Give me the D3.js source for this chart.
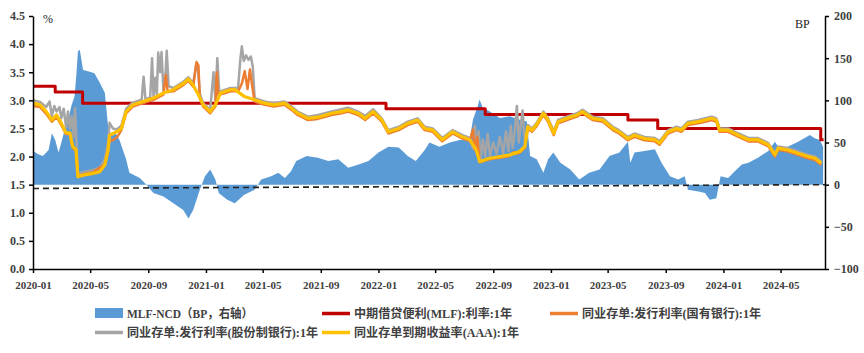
<!DOCTYPE html>
<html>
<head>
<meta charset="utf-8">
<script src="https://cdn.jsdelivr.net/npm/d3@7"></script>
<style>
  body { margin: 0; background: #fff; }
  svg { display: block; }
</style>
</head>
<body>
<svg></svg>
<script>
// clear the svg
d3.selectAll("svg > *").remove();

/*
 * Data
 */
// MLF-NCD spread, BP (right axis)
const mlfNcdSpread = [
  ["2020-01-01", 40], ["2020-01-12", 36], ["2020-01-22", 34], ["2020-02-03", 41], ["2020-02-10", 61],
  ["2020-02-17", 53], ["2020-02-24", 38], ["2020-03-01", 50], ["2020-03-08", 65], ["2020-03-14", 73],
  ["2020-03-22", 93], ["2020-03-29", 105], ["2020-04-02", 132], ["2020-04-05", 158], ["2020-04-09", 160],
  ["2020-04-16", 136], ["2020-04-30", 134], ["2020-05-10", 132], ["2020-05-21", 121], ["2020-06-01", 109],
  ["2020-06-08", 69], ["2020-06-11", 61], ["2020-06-22", 63], ["2020-07-02", 53], ["2020-07-16", 30],
  ["2020-07-23", 14], ["2020-08-14", 8], ["2020-08-28", 0], ["2020-09-12", -10], ["2020-10-03", -14],
  ["2020-10-24", -22], ["2020-11-14", -30], ["2020-11-25", -40], ["2020-12-05", -30], ["2020-12-19", -6],
  ["2020-12-30", 10], ["2021-01-10", 18], ["2021-01-21", 6], ["2021-01-28", -10], ["2021-02-15", -18],
  ["2021-03-03", -22], ["2021-03-23", -12], ["2021-04-14", -6], ["2021-04-28", 6], ["2021-05-19", 10],
  ["2021-06-03", 14], ["2021-06-17", 8], ["2021-06-30", 16], ["2021-07-11", 28], ["2021-08-02", 34],
  ["2021-08-26", 32], ["2021-09-17", 28], ["2021-10-08", 30], ["2021-10-29", 20], ["2021-11-20", 24],
  ["2021-12-11", 28], ["2022-01-01", 38], ["2022-01-22", 45], ["2022-02-13", 44], ["2022-03-04", 34],
  ["2022-03-21", 28], ["2022-04-09", 41], ["2022-04-19", 50], ["2022-05-10", 45], ["2022-06-01", 50],
  ["2022-06-22", 53], ["2022-07-13", 53], ["2022-07-20", 77], ["2022-07-30", 93], ["2022-08-03", 101],
  ["2022-08-10", 91], ["2022-08-24", 87], ["2022-09-15", 79], ["2022-10-06", 81], ["2022-10-27", 77],
  ["2022-11-11", 75], ["2022-11-18", 34], ["2022-12-02", 30], ["2022-12-16", 14], ["2022-12-26", 30],
  ["2023-01-06", 38], ["2023-01-21", 26], ["2023-02-11", 18], ["2023-03-02", 6], ["2023-03-23", 14],
  ["2023-04-14", 18], ["2023-05-05", 34], ["2023-05-26", 38], ["2023-06-13", 51], ["2023-06-18", 26],
  ["2023-06-27", 38], ["2023-07-18", 40], ["2023-08-09", 42], ["2023-08-23", 26], ["2023-09-10", 10],
  ["2023-09-27", 6], ["2023-10-11", 10], ["2023-10-18", -6], ["2023-11-09", -8], ["2023-11-23", -10],
  ["2023-12-03", -18], ["2023-12-17", -16], ["2023-12-26", 10], ["2024-01-11", 8], ["2024-01-25", 16],
  ["2024-02-09", 24], ["2024-02-23", 26], ["2024-03-14", 32], ["2024-04-05", 40], ["2024-04-19", 51],
  ["2024-04-26", 45], ["2024-05-16", 45], ["2024-06-07", 51], ["2024-07-02", 59], ["2024-07-12", 55],
  ["2024-07-23", 53], ["2024-07-30", 45]
];

// MLF 1Y rate, % (step line)
const mlfRate = [
  ["2020-01-01", 3.25], ["2020-02-17", 3.15], ["2020-04-15", 2.95], ["2022-01-17", 2.85],
  ["2022-08-15", 2.75], ["2023-06-13", 2.65], ["2023-08-15", 2.50], ["2024-07-25", 2.30],
  ["2024-07-31", 2.30]
];

// NCD issuance rate, state-owned banks, 1Y, %
const ncdStateBank = [
  ["2020-01-01", 2.90], ["2020-01-16", 2.88], ["2020-01-29", 2.76], ["2020-02-10", 2.62], ["2020-02-20", 2.70],
  ["2020-03-01", 2.56], ["2020-03-11", 2.40], ["2020-03-19", 2.40], ["2020-03-25", 2.16], ["2020-04-01", 2.10],
  ["2020-04-05", 1.65], ["2020-04-16", 1.68], ["2020-05-07", 1.72], ["2020-05-21", 1.80], ["2020-06-01", 1.86],
  ["2020-06-08", 2.15], ["2020-06-11", 2.28], ["2020-06-20", 2.30], ["2020-06-28", 2.36], ["2020-07-06", 2.47],
  ["2020-07-16", 2.77], ["2020-07-30", 2.89], ["2020-08-21", 2.95], ["2020-09-12", 3.01], ["2020-10-03", 3.10],
  ["2020-10-08", 3.45], ["2020-10-12", 3.15], ["2020-10-24", 3.16], ["2020-11-14", 3.27], ["2020-11-25", 3.35],
  ["2020-12-05", 3.24], ["2020-12-12", 3.68], ["2020-12-16", 3.62], ["2020-12-19", 3.05], ["2020-12-26", 2.89],
  ["2021-01-10", 2.77], ["2021-01-21", 2.89], ["2021-01-24", 3.50], ["2021-01-27", 3.10], ["2021-02-11", 3.13],
  ["2021-02-22", 3.16], ["2021-03-10", 3.16], ["2021-03-18", 3.30], ["2021-03-24", 3.52], ["2021-03-30", 3.20],
  ["2021-04-04", 3.55], ["2021-04-09", 3.25], ["2021-04-14", 2.98], ["2021-05-05", 2.92], ["2021-05-25", 2.89],
  ["2021-06-16", 2.92], ["2021-07-01", 2.83], ["2021-07-14", 2.74], ["2021-08-05", 2.65], ["2021-08-26", 2.67],
  ["2021-09-24", 2.74], ["2021-10-15", 2.77], ["2021-10-29", 2.80], ["2021-11-19", 2.74], ["2021-12-04", 2.65],
  ["2021-12-21", 2.77], ["2022-01-08", 2.62], ["2022-01-22", 2.41], ["2022-02-13", 2.47], ["2022-03-04", 2.56],
  ["2022-03-25", 2.62], ["2022-04-09", 2.47], ["2022-04-26", 2.44], ["2022-05-16", 2.27], ["2022-06-07", 2.41],
  ["2022-06-28", 2.32], ["2022-07-13", 2.28], ["2022-07-20", 2.48], ["2022-07-24", 2.12], ["2022-07-29", 2.35],
  ["2022-08-03", 1.90], ["2022-08-24", 1.95], ["2022-09-15", 1.98], ["2022-10-06", 2.01], ["2022-10-14", 2.08],
  ["2022-10-20", 2.05], ["2022-10-27", 2.07], ["2022-11-07", 2.16], ["2022-11-13", 2.50], ["2022-11-22", 2.44],
  ["2022-12-01", 2.53], ["2022-12-16", 2.74], ["2022-12-26", 2.62], ["2023-01-07", 2.38], ["2023-01-16", 2.59],
  ["2023-02-04", 2.65], ["2023-02-25", 2.71], ["2023-03-09", 2.77], ["2023-03-30", 2.65], ["2023-04-21", 2.62],
  ["2023-05-12", 2.47], ["2023-05-25", 2.41], ["2023-06-13", 2.29], ["2023-06-27", 2.35], ["2023-07-18", 2.29],
  ["2023-08-09", 2.27], ["2023-08-19", 2.21], ["2023-09-06", 2.41], ["2023-09-24", 2.47], ["2023-10-04", 2.44],
  ["2023-10-18", 2.56], ["2023-11-09", 2.59], ["2023-11-23", 2.62], ["2023-12-07", 2.65], ["2023-12-17", 2.62],
  ["2023-12-24", 2.44], ["2024-01-11", 2.44], ["2024-02-02", 2.35], ["2024-02-23", 2.27], ["2024-03-14", 2.27],
  ["2024-04-05", 2.18], ["2024-04-19", 2.00], ["2024-04-26", 2.12], ["2024-05-16", 2.09], ["2024-06-07", 2.03],
  ["2024-06-28", 1.97], ["2024-07-13", 1.94], ["2024-07-26", 1.85]
];

// NCD issuance rate, joint-stock banks, 1Y, %
const ncdJointStock = [
  ["2020-01-01", 3.00], ["2020-01-16", 2.97], ["2020-01-29", 2.88], ["2020-02-05", 2.98], ["2020-02-10", 2.72],
  ["2020-02-15", 2.90], ["2020-02-20", 2.80], ["2020-02-26", 2.88], ["2020-03-01", 2.68], ["2020-03-06", 2.85],
  ["2020-03-11", 2.52], ["2020-03-15", 2.80], ["2020-03-19", 2.50], ["2020-03-23", 2.72], ["2020-03-27", 2.35],
  ["2020-03-30", 2.86], ["2020-04-02", 2.25], ["2020-04-05", 1.70], ["2020-04-16", 1.72], ["2020-05-07", 1.76],
  ["2020-05-21", 1.80], ["2020-06-01", 1.95], ["2020-06-08", 2.25], ["2020-06-11", 2.60], ["2020-06-18", 2.50],
  ["2020-06-26", 2.48], ["2020-07-06", 2.55], ["2020-07-16", 2.85], ["2020-07-30", 2.96], ["2020-08-18", 3.01],
  ["2020-08-22", 3.42], ["2020-08-26", 3.02], ["2020-09-05", 3.05], ["2020-09-09", 3.75], ["2020-09-12", 3.08],
  ["2020-09-16", 3.40], ["2020-09-19", 3.10], ["2020-09-22", 3.85], ["2020-09-26", 3.50], ["2020-09-29", 3.86],
  ["2020-10-03", 3.18], ["2020-10-07", 3.40], ["2020-10-10", 3.88], ["2020-10-14", 3.25], ["2020-10-24", 3.22],
  ["2020-11-14", 3.33], ["2020-11-25", 3.41], ["2020-12-05", 3.30], ["2020-12-11", 3.62], ["2020-12-15", 3.58],
  ["2020-12-19", 3.12], ["2020-12-26", 2.95], ["2021-01-10", 2.83], ["2021-01-17", 3.50], ["2021-01-21", 3.00],
  ["2021-01-25", 3.75], ["2021-01-29", 3.15], ["2021-02-11", 3.19], ["2021-02-22", 3.22], ["2021-03-10", 3.22],
  ["2021-03-15", 3.75], ["2021-03-18", 3.96], ["2021-03-22", 3.70], ["2021-03-27", 3.80], ["2021-04-01", 3.72],
  ["2021-04-06", 3.78], ["2021-04-10", 3.60], ["2021-04-14", 3.04], ["2021-05-05", 2.98], ["2021-05-25", 2.95],
  ["2021-06-16", 2.98], ["2021-07-01", 2.89], ["2021-07-14", 2.80], ["2021-08-05", 2.71], ["2021-08-26", 2.74],
  ["2021-09-24", 2.80], ["2021-10-15", 2.84], ["2021-10-29", 2.87], ["2021-11-19", 2.80], ["2021-12-04", 2.72],
  ["2021-12-21", 2.84], ["2022-01-08", 2.68], ["2022-01-22", 2.47], ["2022-02-13", 2.53], ["2022-03-04", 2.62],
  ["2022-03-25", 2.68], ["2022-04-09", 2.53], ["2022-04-26", 2.50], ["2022-05-16", 2.33], ["2022-06-07", 2.47],
  ["2022-06-28", 2.38], ["2022-07-13", 2.33], ["2022-07-20", 2.15], ["2022-07-24", 2.55], ["2022-07-28", 2.10],
  ["2022-08-01", 2.45], ["2022-08-05", 1.95], ["2022-08-10", 2.30], ["2022-08-15", 2.00], ["2022-08-20", 2.40],
  ["2022-08-25", 2.02], ["2022-09-01", 2.25], ["2022-09-08", 2.05], ["2022-09-15", 2.35], ["2022-09-22", 2.06],
  ["2022-09-28", 2.45], ["2022-10-03", 2.10], ["2022-10-08", 2.55], ["2022-10-12", 2.15], ["2022-10-16", 2.40],
  ["2022-10-21", 2.90], ["2022-10-25", 2.25], ["2022-11-02", 2.82], ["2022-11-07", 2.22], ["2022-11-13", 2.56],
  ["2022-11-22", 2.50], ["2022-12-01", 2.59], ["2022-12-16", 2.80], ["2022-12-26", 2.68], ["2023-01-07", 2.45],
  ["2023-01-16", 2.65], ["2023-02-04", 2.71], ["2023-02-25", 2.77], ["2023-03-09", 2.83], ["2023-03-30", 2.71],
  ["2023-04-21", 2.68], ["2023-05-12", 2.53], ["2023-05-25", 2.47], ["2023-06-13", 2.35], ["2023-06-27", 2.41],
  ["2023-07-18", 2.35], ["2023-08-09", 2.33], ["2023-08-19", 2.27], ["2023-09-06", 2.47], ["2023-09-24", 2.53],
  ["2023-10-04", 2.50], ["2023-10-18", 2.62], ["2023-11-09", 2.65], ["2023-11-23", 2.68], ["2023-12-07", 2.71],
  ["2023-12-17", 2.68], ["2023-12-24", 2.50], ["2024-01-11", 2.50], ["2024-02-02", 2.41], ["2024-02-23", 2.33],
  ["2024-03-14", 2.33], ["2024-04-05", 2.24], ["2024-04-19", 2.06], ["2024-04-26", 2.18], ["2024-05-16", 2.15],
  ["2024-06-07", 2.09], ["2024-06-28", 2.03], ["2024-07-13", 2.00], ["2024-07-26", 1.91]
];

// NCD yield to maturity (AAA), 1Y, %
const ncdAAA = [
  ["2020-01-01", 2.95], ["2020-01-16", 2.92], ["2020-01-29", 2.80], ["2020-02-10", 2.65], ["2020-02-20", 2.74],
  ["2020-03-01", 2.59], ["2020-03-11", 2.42], ["2020-03-19", 2.42], ["2020-03-25", 2.18], ["2020-04-01", 2.12],
  ["2020-04-05", 1.64], ["2020-04-16", 1.67], ["2020-05-07", 1.70], ["2020-05-21", 1.73], ["2020-06-01", 1.85],
  ["2020-06-08", 2.12], ["2020-06-11", 2.38], ["2020-06-26", 2.44], ["2020-07-06", 2.50], ["2020-07-16", 2.80],
  ["2020-07-30", 2.92], ["2020-08-21", 2.98], ["2020-09-12", 3.04], ["2020-10-03", 3.13], ["2020-10-24", 3.19],
  ["2020-11-14", 3.30], ["2020-11-25", 3.38], ["2020-12-05", 3.27], ["2020-12-16", 3.10], ["2020-12-26", 2.92],
  ["2021-01-10", 2.80], ["2021-01-21", 2.92], ["2021-02-01", 3.13], ["2021-02-11", 3.16], ["2021-02-22", 3.19],
  ["2021-03-03", 3.19], ["2021-03-23", 3.07], ["2021-04-14", 3.01], ["2021-05-05", 2.95], ["2021-05-25", 2.92],
  ["2021-06-16", 2.95], ["2021-07-01", 2.86], ["2021-07-14", 2.77], ["2021-08-05", 2.68], ["2021-08-26", 2.70],
  ["2021-09-24", 2.77], ["2021-10-15", 2.80], ["2021-10-29", 2.83], ["2021-11-19", 2.77], ["2021-12-04", 2.68],
  ["2021-12-21", 2.80], ["2022-01-08", 2.65], ["2022-01-22", 2.44], ["2022-02-13", 2.50], ["2022-03-04", 2.59],
  ["2022-03-25", 2.65], ["2022-04-09", 2.50], ["2022-04-26", 2.47], ["2022-05-16", 2.30], ["2022-06-07", 2.44],
  ["2022-06-28", 2.35], ["2022-07-13", 2.30], ["2022-07-27", 2.12], ["2022-08-03", 1.91], ["2022-08-24", 1.97],
  ["2022-09-15", 2.00], ["2022-10-06", 2.03], ["2022-10-27", 2.09], ["2022-11-07", 2.18], ["2022-11-13", 2.53],
  ["2022-11-22", 2.47], ["2022-12-01", 2.56], ["2022-12-16", 2.77], ["2022-12-26", 2.65], ["2023-01-07", 2.41],
  ["2023-01-16", 2.62], ["2023-02-04", 2.68], ["2023-02-25", 2.74], ["2023-03-09", 2.80], ["2023-03-30", 2.68],
  ["2023-04-21", 2.65], ["2023-05-12", 2.50], ["2023-05-25", 2.44], ["2023-06-13", 2.32], ["2023-06-27", 2.38],
  ["2023-07-18", 2.32], ["2023-08-09", 2.30], ["2023-08-19", 2.24], ["2023-09-06", 2.44], ["2023-09-24", 2.50],
  ["2023-10-04", 2.47], ["2023-10-18", 2.59], ["2023-11-09", 2.62], ["2023-11-23", 2.65], ["2023-12-07", 2.68],
  ["2023-12-17", 2.65], ["2023-12-24", 2.47], ["2024-01-11", 2.47], ["2024-02-02", 2.38], ["2024-02-23", 2.30],
  ["2024-03-14", 2.30], ["2024-04-05", 2.21], ["2024-04-19", 2.03], ["2024-04-26", 2.15], ["2024-05-16", 2.12],
  ["2024-06-07", 2.06], ["2024-06-28", 2.00], ["2024-07-13", 1.97], ["2024-07-26", 1.88]
];

// dashed reference line on the right axis (BP)
const zeroRef = [["2020-01-01", -4.5], ["2024-08-03", 0]];

const xDomain = ["2020-01-01", "2024-08-03"];
const leftTicks = [0, 0.5, 1, 1.5, 2, 2.5, 3, 3.5, 4, 4.5];
const rightTicks = [-100, -50, 0, 50, 100, 150, 200];

const legendItems = [
  { label: "MLF-NCD（BP，右轴）", color: "#5B9BD5", type: "rect", width: 126 },
  { label: "中期借贷便利(MLF):利率:1年", color: "#C00000", type: "line", width: 158 },
  { label: "同业存单:发行利率(国有银行):1年", color: "#ED7D31", type: "line", width: 179 },
  { label: "同业存单:发行利率(股份制银行):1年", color: "#A5A5A5", type: "line", width: 191 },
  { label: "同业存单到期收益率(AAA):1年", color: "#FFC000", type: "line", width: 165 }
];

/*
 * Viz constants
 */
const SVG_WIDTH = 864;
const SVG_HEIGHT = 353;
const PLOT_LEFT = 33;
const PLOT_RIGHT = 825;
const PLOT_TOP = 16;
const PLOT_BOTTOM = 269;
const LABEL_FONT = "'Liberation Serif', 'Times New Roman', 'Noto Sans CJK SC', serif";
const TEXT_COLOR = "#404040";

const parse = d3.timeParse("%Y-%m-%d");

const svg = d3.select("svg")
  .attr("width", SVG_WIDTH)
  .attr("height", SVG_HEIGHT);

svg.append("rect")
  .attr("width", SVG_WIDTH)
  .attr("height", SVG_HEIGHT)
  .attr("fill", "#fff");

const x = d3.scaleTime()
  .domain(xDomain.map(parse))
  .range([PLOT_LEFT, PLOT_RIGHT]);
const yLeft = d3.scaleLinear().domain([0, 4.5]).range([PLOT_BOTTOM, PLOT_TOP]);
const yRight = d3.scaleLinear().domain([-100, 200]).range([PLOT_BOTTOM, PLOT_TOP]);

// spread area
svg.append("path")
  .datum(mlfNcdSpread)
  .attr("fill", "#5B9BD5")
  .attr("d", d3.area()
    .x(d => x(parse(d[0])))
    .y0(yRight(0))
    .y1(d => yRight(d[1])));

// dashed zero line
svg.append("path")
  .datum(zeroRef)
  .attr("fill", "none")
  .attr("stroke", "#222")
  .attr("stroke-width", 1.6)
  .attr("stroke-dasharray", "6,4")
  .attr("d", d3.line()
    .x(d => x(parse(d[0])))
    .y(d => yRight(d[1])));

function drawLine(data, color, width, curve) {
  svg.append("path")
    .datum(data)
    .attr("fill", "none")
    .attr("stroke", color)
    .attr("stroke-width", width)
    .attr("stroke-linejoin", "round")
    .attr("d", d3.line()
      .curve(curve || d3.curveLinear)
      .x(d => x(parse(d[0])))
      .y(d => yLeft(d[1])));
}

drawLine(mlfRate, "#C00000", 3, d3.curveStepAfter);
drawLine(ncdJointStock, "#A5A5A5", 2.5);
drawLine(ncdStateBank, "#ED7D31", 2.5);
drawLine(ncdAAA, "#FFC000", 3.2);

/*
 * Axes
 */
function styleAxis(g) {
  g.select(".domain").attr("stroke", "#000").attr("stroke-width", 1.5);
  g.selectAll(".tick line").attr("stroke", "#000").attr("stroke-width", 1.5);
  g.selectAll(".tick text")
    .attr("fill", TEXT_COLOR)
    .attr("font-family", LABEL_FONT)
    .attr("font-weight", "bold")
    .attr("font-size", "12px");
}

svg.append("g")
  .attr("transform", `translate(${PLOT_LEFT},0)`)
  .call(d3.axisLeft(yLeft).tickValues(leftTicks).tickFormat(d3.format(".1f"))
    .tickSize(4).tickSizeOuter(0).tickPadding(4))
  .call(styleAxis);

svg.append("g")
  .attr("transform", `translate(${PLOT_RIGHT},0)`)
  .call(d3.axisRight(yRight).tickValues(rightTicks)
    .tickSize(4).tickSizeOuter(0).tickPadding(5))
  .call(styleAxis);

svg.append("g")
  .attr("transform", `translate(0,${PLOT_BOTTOM})`)
  .call(d3.axisBottom(x).ticks(d3.timeMonth.every(4)).tickFormat(d3.timeFormat("%Y-%m"))
    .tickSize(4).tickSizeOuter(0).tickPadding(8))
  .call(styleAxis)
  .call(g => g.selectAll(".tick text").attr("font-size", "11px"));

// unit labels
svg.append("text")
  .attr("x", 43).attr("y", 23)
  .attr("font-family", LABEL_FONT).attr("font-size", "12px")
  .attr("fill", "#222")
  .text("%");

svg.append("text")
  .attr("x", 795).attr("y", 28)
  .attr("font-family", LABEL_FONT).attr("font-size", "12px")
  .attr("fill", "#222")
  .text("BP");

/*
 * Legend
 */
const legendPos = [
  { x: 95, y: 318 }, { x: 322, y: 318 }, { x: 550, y: 318 },
  { x: 95, y: 337 }, { x: 322, y: 337 }
];

legendItems.forEach((item, i) => {
  const p = legendPos[i];
  const g = svg.append("g").attr("transform", `translate(${p.x},${p.y})`);
  if (item.type === "rect") {
    g.append("rect")
      .attr("x", 0).attr("y", -10)
      .attr("width", 28).attr("height", 10)
      .attr("fill", item.color);
  } else {
    g.append("line")
      .attr("x1", 0).attr("x2", 28)
      .attr("y1", -4.5).attr("y2", -4.5)
      .attr("stroke", item.color)
      .attr("stroke-width", 3.5);
  }
  g.append("text")
    .attr("x", 32).attr("y", 0)
    .attr("font-family", LABEL_FONT)
    .attr("font-weight", "bold")
    .attr("font-size", "12px")
    .attr("fill", TEXT_COLOR)
    .attr("textLength", item.width)
    .attr("lengthAdjust", "spacingAndGlyphs")
    .text(item.label);
});
</script>
</body>
</html>
